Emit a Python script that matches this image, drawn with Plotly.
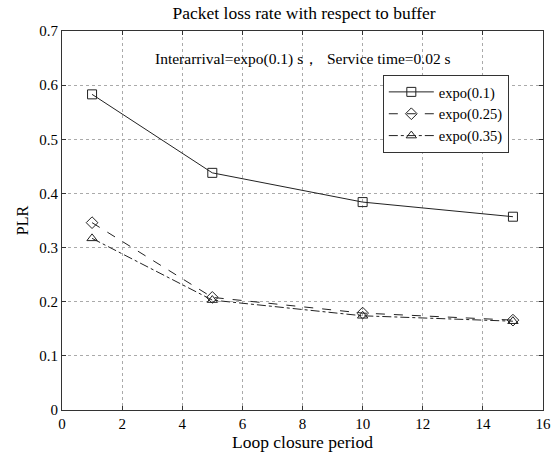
import plotly.graph_objects as go

x_vals = [1, 5, 10, 15]
plr_01 = [0.583, 0.438, 0.384, 0.357]
plr_025 = [0.346, 0.208, 0.179, 0.166]
plr_035 = [0.317, 0.203, 0.174, 0.164]
names = ["expo(0.1)", "expo(0.25)", "expo(0.35)"]
x_ticks = [0, 2, 4, 6, 8, 10, 12, 14, 16]
y_ticks = [0, 0.1, 0.2, 0.3, 0.4, 0.5, 0.6, 0.7]

FONT = "Liberation Serif"
fig = go.Figure()
styles = [("solid", "square-open"), ("dash", "diamond-open"), ("dashdot", "triangle-up-open")]
for name, ys, (dash, sym) in zip(names, [plr_01, plr_025, plr_035], styles):
    fig.add_trace(go.Scatter(
        x=x_vals, y=ys, name=name, mode="lines+markers",
        line=dict(color="#222222", width=1, dash=dash),
        marker=dict(symbol=sym, size=9, color="#222222", line=dict(width=1, color="#222222")),
    ))

axis_common = dict(
    showline=True, linecolor="#333333", linewidth=1, mirror="ticks",
    ticks="inside", ticklen=4, tickcolor="#333333",
    showgrid=True, gridcolor="#aaaaaa", griddash="dot", gridwidth=1,
    zeroline=False, tickfont=dict(family=FONT, size=15, color="black"),
    automargin=False,
)
fig.update_xaxes(range=[0, 16], tickvals=x_ticks, ticktext=[str(v) for v in x_ticks],
                 title=dict(text="Loop closure period", font=dict(family=FONT, size=17.5, color="black"), standoff=4),
                 **axis_common)
fig.update_yaxes(range=[0, 0.7], tickvals=y_ticks, ticktext=["0", "0.1", "0.2", "0.3", "0.4", "0.5", "0.6", "0.7"],
                 title=dict(text="PLR", font=dict(family=FONT, size=16, color="black"), standoff=6),
                 **axis_common)

fig.add_annotation(text="Interarrival=expo(0.1) s，  Service time=0.02 s", xref="paper", yref="paper",
                   x=0.5, y=0.955, showarrow=False, font=dict(family=FONT, size=15.5, color="black"))

fig.update_layout(
    width=558, height=457,
    margin=dict(l=62, r=15, t=31, b=47, autoexpand=False),
    paper_bgcolor="white", plot_bgcolor="white",
    title=dict(text="Packet loss rate with respect to buffer", x=0.545, xanchor="center", y=0.972, yanchor="middle",
               font=dict(family=FONT, size=17.5, color="black"), automargin=False),
    legend=dict(x=0.667, y=0.884, xanchor="left", yanchor="top", bgcolor="white",
                bordercolor="#333333", borderwidth=1,
                font=dict(family=FONT, size=14.5, color="black"),
                itemwidth=45, tracegroupgap=0),
    showlegend=True,
)
fig.write_html("out.html", config={"displayModeBar": False},
               post_script="document.body.style.margin='0px';document.body.style.overflow='hidden';")
